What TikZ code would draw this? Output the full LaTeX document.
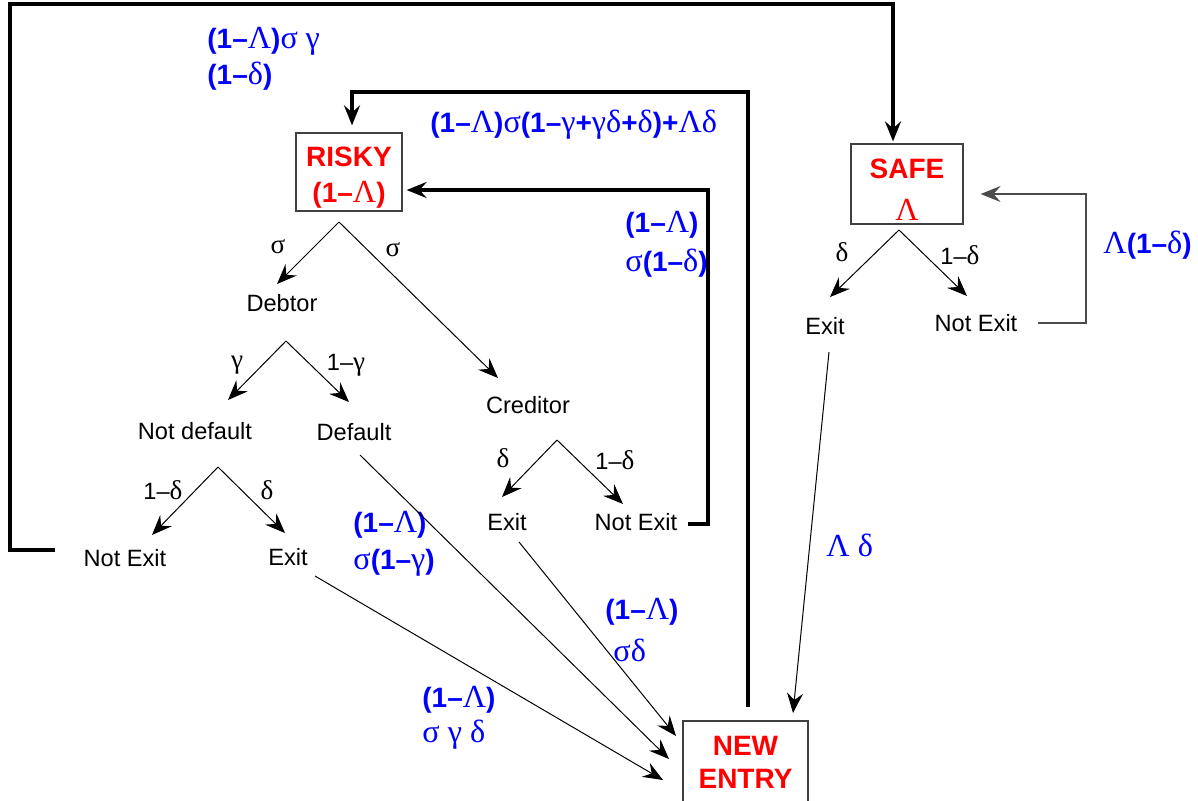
\documentclass[tikz,border=0pt]{standalone}
\usepackage{fontspec}
\setmainfont{Liberation Sans}
\newfontfamily\grkfont[Scale=1.15]{Liberation Serif}
\usetikzlibrary{arrows.meta,calc}
\newcommand\G[1]{{\grkfont\mdseries #1}}
\definecolor{myblue}{RGB}{0,0,255}
\definecolor{myred}{RGB}{255,0,0}
\begin{document}
\begin{tikzpicture}[x=0.5pt,y=-0.5pt,
  lbl/.style={font=\fontsize{11.8}{14}\selectfont, inner sep=0pt},
  blbl/.style={font=\fontsize{14}{16}\selectfont\bfseries, text=myblue, inner sep=0pt, anchor=west},
  box/.style={draw=black!75, line width=0.6pt, text=myred, font=\fontsize{14}{18}\selectfont\bfseries, align=center, inner sep=0pt},
  tip/.style={-{Stealth[length=10pt,width=8pt,inset=3.5pt]}},
  arr/.style={line width=0.5pt, tip},
  fat/.style={line width=2.3pt, tip},
  fb/.style={line width=0.8pt, draw=black!70, tip}
]
\useasboundingbox (0,0) rectangle (1198,800);

% boxes
\node[box, minimum width=53pt, minimum height=39pt] (risky) at (349,172) {\rule{0pt}{15pt}RISKY\\[0pt](1–\G{Λ})};
\node[box, minimum width=56pt, minimum height=40pt] (safe) at (907,184) {\rule{0pt}{15pt}SAFE\\[3pt]\G{Λ}};
\node[box, minimum width=62.5pt, minimum height=41pt, font=\fontsize{14}{16.5}\selectfont\bfseries] (ne) at (745.5,762) {NEW\\ENTRY};

% black labels
\node[lbl] (s1) at (278,247) {\G{σ}};
\node[lbl] (s2) at (393,250) {\G{σ}};
\node[lbl] (debtor) at (282,303) {Debtor};
\node[lbl] (creditor) at (528,405) {Creditor};
\node[lbl] (g1) at (237,365) {\G{γ}};
\node[lbl] (g2) at (346,365) {1–\G{γ}};
\node[lbl] (notdef) at (195,431) {Not default};
\node[lbl] (default) at (354,432) {Default};
\node[lbl] (cd1) at (503,458) {\G{δ}};
\node[lbl] (cd2) at (615,460) {1–\G{δ}};
\node[lbl] (cexit) at (507,522) {Exit};
\node[lbl] (cnex) at (636,522) {Not Exit};
\node[lbl] (nd1) at (163,490) {1–\G{δ}};
\node[lbl] (nd2) at (267,490) {\G{δ}};
\node[lbl] (dnex) at (125,558) {Not Exit};
\node[lbl] (dexit) at (288,557) {Exit};
\node[lbl] (sd1) at (842,252) {\G{δ}};
\node[lbl] (sd2) at (960,255) {1–\G{δ}};
\node[lbl] (sexit) at (825,326) {Exit};
\node[lbl] (snex) at (976,323) {Not Exit};

% blue labels
\node[blbl] (b1a) at (207,41) {(1–\G{Λ})\G{σ} \G{γ}};
\node[blbl] (b1b) at (207,76) {(1–\G{δ})};
\node[blbl] (b2) at (430,125) {(1–\G{Λ})\G{σ}(1–\G{γ}+\G{γδ}+\G{δ})+\G{Λδ}};
\node[blbl] (b3a) at (625,225) {(1–\G{Λ})};
\node[blbl] (b3b) at (625,263) {\G{σ}(1–\G{δ})};
\node[blbl] (b4) at (1103,245) {\G{Λ}(1–\G{δ})};
\node[blbl] (b5) at (826,545) {\G{Λ δ}};
\node[blbl] (b6a) at (353,525) {(1–\G{Λ})};
\node[blbl] (b6b) at (353,563) {\G{σ}(1–\G{γ})};
\node[blbl] (b7a) at (605,612) {(1–\G{Λ})};
\node[blbl] (b7b) at (613,650) {\G{σδ}};
\node[blbl] (b8a) at (422,700) {(1–\G{Λ})};
\node[blbl] (b8b) at (422,735) {\G{σ γ δ}};

% split points and tips
\coordinate (rA) at (339,222);
\coordinate (rL) at (277,284);
\coordinate (rR) at (498,378);
\coordinate (dA) at (286,341);
\coordinate (dL) at (228,400);
\coordinate (dR) at (349,402);
\coordinate (ndA) at (218,467);
\coordinate (ndL) at (152,535);
\coordinate (ndR) at (285,533);
\coordinate (cA) at (557,440);
\coordinate (cL) at (502,497);
\coordinate (cR) at (623,504);
\coordinate (sA) at (899,230);
\coordinate (sL) at (830,297);
\coordinate (sR) at (967,296);

\draw[arr] (rA) -- (rL);
\draw[arr] (rA) -- (rR);
\draw[arr] (dA) -- (dL);
\draw[arr] (dA) -- (dR);
\draw[arr] (ndA) -- (ndL);
\draw[arr] (ndA) -- (ndR);
\draw[arr] (cA) -- (cL);
\draw[arr] (cA) -- (cR);
\draw[arr] (sA) -- (sL);
\draw[arr] (sA) -- (sR);

% flows into NEW ENTRY
\coordinate (defS) at (360,455);
\coordinate (cexS) at (519,542);
\coordinate (dexS) at (315,576);
\coordinate (sexS) at (829,352);
\coordinate (neT1) at (676,736);
\coordinate (neT2) at (669,759);
\coordinate (neT3) at (663,780);
\coordinate (neT4) at (793,713);
\draw[arr] (cexS) -- (neT1);
\draw[arr] (defS) -- (neT2);
\draw[arr] (dexS) -- (neT3);
\draw[arr] (sexS) -- (neT4);

% thick loops
\draw[fat] ($(dnex.west)+(-28,-8)$) -| (10,4) -| ($(safe.north)+(-14,-2)$);
\draw[fat] ($(ne.north)+(2.5,-13)$) -- (748,92) -| ($(risky.north)+(3,-7)$);
\draw[fat] ($(cnex.east)+(10,2)$) -| (708,190) -- ($(risky.east)+(4,18)$);
\draw[fb] ($(snex.east)+(20,0)$) -| (1086,194) -- ($(safe.east)+(17,10)$);
\end{tikzpicture}
\end{document}
